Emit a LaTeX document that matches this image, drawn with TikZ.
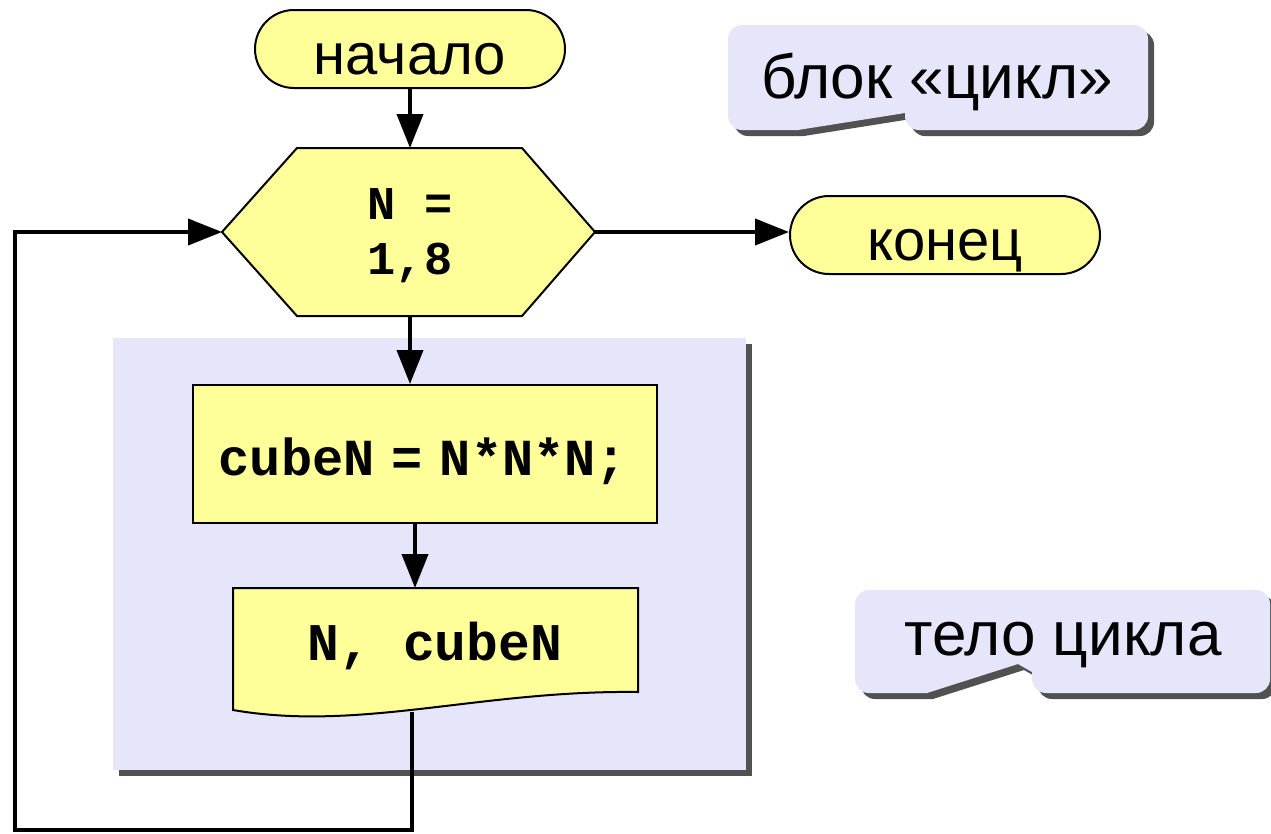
\documentclass[tikz,border=0pt]{standalone}
\usepackage{fontspec}
\setmainfont{Liberation Sans}
\setmonofont{Liberation Mono}
\usetikzlibrary{arrows.meta,shadows}

\definecolor{blockyellow}{HTML}{FFFF99}
\definecolor{bodyblue}{HTML}{E6E6FA}

\begin{document}
\begin{tikzpicture}[x=1pt,y=-1pt,
    term/.style={draw,line width=2pt,fill=blockyellow,rounded corners=39pt,
      minimum width=310pt,minimum height=78pt,text height=50pt,text depth=0pt,
      font=\fontsize{58}{60}\selectfont},
    block/.style={draw,line width=2pt,fill=blockyellow},
    code/.style={font=\fontsize{47}{55}\selectfont\ttfamily\bfseries,align=center},
    note/.style={font=\fontsize{62}{64}\selectfont},
    darkshadow/.style={drop shadow={shadow xshift=6pt,shadow yshift=-6pt,
      fill=black!85,opacity=.8}},
    callout/.style={fill=bodyblue,rounded corners=14pt,darkshadow},
    flow/.style={line width=4pt,-{Triangle[length=34pt,width=26pt]}},
    link/.style={line width=4pt}]
  \useasboundingbox (0,0) rectangle (1271,833);

  \node[fill=bodyblue,minimum width=633pt,minimum height=432pt,darkshadow] (body) at (429.5,554) {};

  \node[term] (start) at (410,49) {начало};
  \node[term] (stop) at (945,235) {конец};

  \draw[block] (297,148) -- (522,148) -- (595,232) -- (522,316) -- (297,316) -- (222,232) -- cycle;
  \node[code] (loop) at (410,236) {N =\\1,8};
  \coordinate (looptop) at (410,148);
  \coordinate (loopbot) at (410,316);
  \coordinate (loopleft) at (222,232);
  \coordinate (loopright) at (595,232);

  \node[block,minimum width=464pt,minimum height=138pt] (calc) at (425,454) {};
  \node[code,font=\fontsize{52}{57}\selectfont\ttfamily\bfseries] (calctext) at (423,461)
    {cubeN\kern17pt=\kern17pt N*N*N;};

  \draw[block] (233,588) -- (638,588) -- (638,692)
    .. controls (480,690) and (360,732) .. (233,710) -- cycle;
  \node[code,font=\fontsize{53}{57}\selectfont\ttfamily\bfseries] (outp) at (435,646) {N, cubeN};
  \coordinate (outtop) at (415,588);
  \coordinate (outbot) at (412,712);
  \coordinate (back) at (15,830);

  \draw[flow] (start.south) -- (looptop);
  \draw[flow] (loopright) -- (stop.west |- loopright);
  \draw[flow] (loopbot) -- (loopbot |- calc.north);
  \draw[flow] (calc.south -| outtop) -- (outtop);
  \draw[flow] (outbot) |- (back) |- (loopleft);

  \path[callout] (798,130) -- (728,130) -- (728,25) -- (1148,25) -- (1148,130) -- (905,130)
    [sharp corners] -- (905,113) -- cycle;
  \node[note] (cycle) at (937,82) {блок «цикл»};

  \path[callout] (927,693) -- (855,693) -- (855,590) -- (1270,590) -- (1270,693) -- (1032,693)
    [sharp corners] -- (1032,672) -- (1018,664) -- cycle;
  \node[note] (bodynote) at (1063,645) {тело цикла};
\end{tikzpicture}
\end{document}
